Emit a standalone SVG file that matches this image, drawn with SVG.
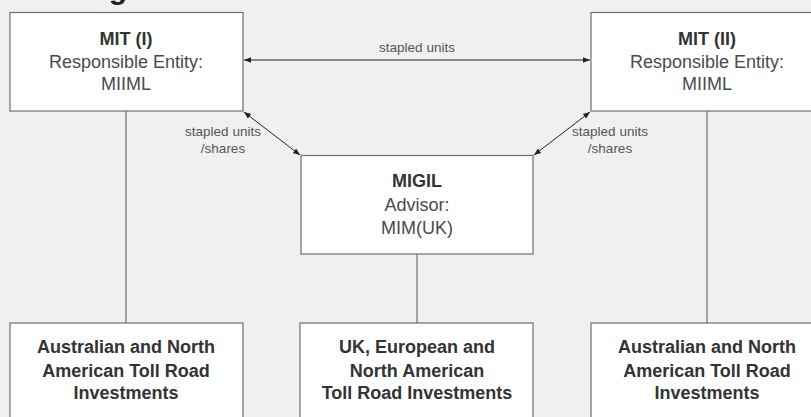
<svg xmlns="http://www.w3.org/2000/svg" width="811" height="417" viewBox="0 0 811 417">
<defs>
<style>
.box{fill:#fff;stroke:#6f6f6f;stroke-width:1.2}
.ln{stroke:#6f6f6f;stroke-width:1.2;fill:none}
.ar{stroke:#222;stroke-width:1;fill:none}
text{font-family:"Liberation Sans",Arial,sans-serif;text-anchor:middle}
.b{font-weight:bold;font-size:18px;fill:#333}
.r{font-size:18px;fill:#4a4a4a}
.s{font-size:13.5px;fill:#555}
.t{font-weight:bold;font-size:30px;fill:#222;text-anchor:start}
</style>
<marker id="ah" viewBox="0 0 10 10" refX="10" refY="5" markerWidth="7" markerHeight="7" orient="auto-start-reverse" markerUnits="userSpaceOnUse">
<path d="M0,1 L10,5 L0,9 z" fill="#222"/>
</marker>
</defs>
<rect width="811" height="417" fill="#f0f0f0"/>
<text class="t" x="17" y="-1">The organisational structure</text>
<g id="connectors">
<line class="ln" x1="126" y1="111" x2="126" y2="323"/>
<line class="ln" x1="417" y1="254" x2="417" y2="323"/>
<line class="ln" x1="707" y1="111" x2="707" y2="323"/>
<line class="ar" x1="244" y1="60" x2="590" y2="60" marker-start="url(#ah)" marker-end="url(#ah)"/>
<line class="ar" x1="244" y1="112" x2="300" y2="155" marker-start="url(#ah)" marker-end="url(#ah)"/>
<line class="ar" x1="590" y1="112" x2="534" y2="155" marker-start="url(#ah)" marker-end="url(#ah)"/>
<text class="s" x="417" y="52">stapled units</text>
<text class="s" x="223" y="136">stapled units</text>
<text class="s" x="223" y="153">/shares</text>
<text class="s" x="610" y="136">stapled units</text>
<text class="s" x="610" y="153">/shares</text>
</g>
<g id="mit1">
<rect class="box" x="10" y="12.5" width="233" height="98.5"/>
<text class="b" x="126" y="45">MIT (I)</text>
<text class="r" x="126" y="68">Responsible Entity:</text>
<text class="r" x="126" y="90">MIIML</text>
</g>
<g id="mit2">
<rect class="box" x="591" y="12.5" width="233" height="98.5"/>
<text class="b" x="707" y="45">MIT (II)</text>
<text class="r" x="707" y="68">Responsible Entity:</text>
<text class="r" x="707" y="90">MIIML</text>
</g>
<g id="migil">
<rect class="box" x="301" y="155.5" width="232" height="98.5"/>
<text class="b" x="417" y="187">MIGIL</text>
<text class="r" x="417" y="211">Advisor:</text>
<text class="r" x="417" y="234">MIM(UK)</text>
</g>
<g id="inv1">
<rect class="box" x="10" y="323" width="233" height="110"/>
<text class="b" x="126" y="353">Australian and North</text>
<text class="b" x="126" y="377">American Toll Road</text>
<text class="b" x="126" y="399">Investments</text>
</g>
<g id="inv2">
<rect class="box" x="300" y="323" width="233" height="110"/>
<text class="b" x="417" y="353">UK, European and</text>
<text class="b" x="417" y="377">North American</text>
<text class="b" x="417" y="399">Toll Road Investments</text>
</g>
<g id="inv3">
<rect class="box" x="591" y="323" width="233" height="110"/>
<text class="b" x="707" y="353">Australian and North</text>
<text class="b" x="707" y="377">American Toll Road</text>
<text class="b" x="707" y="399">Investments</text>
</g>
</svg>
